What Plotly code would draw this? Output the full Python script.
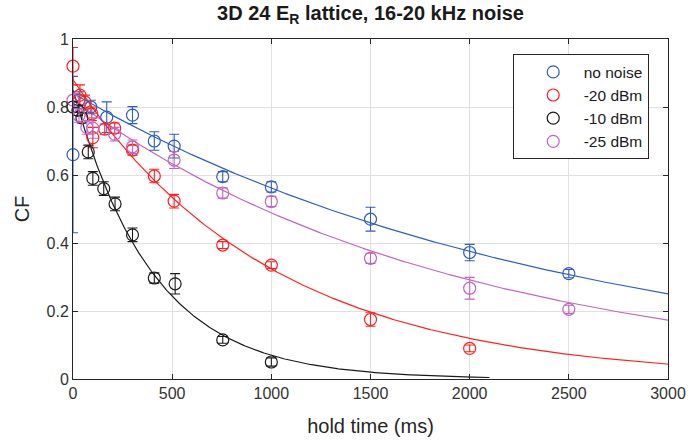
import numpy as np
import plotly.graph_objects as go

# Measured contrast fraction vs hold time for each noise level
series_names = ["no noise", "-20 dBm", "-10 dBm", "-25 dBm"]
series_colors = ["#2f5fbd", "#ff2020", "#1a1a1a", "#c266c2"]

t_none = [0, 30, 90, 170, 300, 410, 510, 755, 1000, 1500, 2000, 2500]
cf_none = [0.66, 0.82, 0.80, 0.77, 0.776, 0.70, 0.685, 0.595, 0.565, 0.47, 0.372, 0.31]
err_none = [0.23, 0.025, 0.02, 0.045, 0.025, 0.027, 0.035, 0.015, 0.015, 0.035, 0.024, 0.012]

t_m20 = [0, 35, 60, 95, 100, 160, 210, 300, 410, 510, 755, 1000, 1500, 2000]
cf_m20 = [0.92, 0.835, 0.815, 0.78, 0.71, 0.735, 0.738, 0.673, 0.597, 0.523, 0.394, 0.335, 0.175, 0.09]
err_m20 = [0.055, 0.03, 0.02, 0.02, 0.03, 0.015, 0.015, 0.015, 0.02, 0.02, 0.01, 0.01, 0.02, 0.01]

t_m10 = [0, 25, 45, 77, 100, 155, 212, 300, 410, 515, 755, 1000]
cf_m10 = [0.80, 0.79, 0.768, 0.668, 0.59, 0.56, 0.515, 0.424, 0.297, 0.28, 0.115, 0.05]
err_m10 = [0.015, 0.015, 0.015, 0.02, 0.02, 0.02, 0.02, 0.02, 0.015, 0.03, 0.01, 0.012]

t_m25 = [0, 30, 70, 100, 210, 300, 510, 755, 1000, 1500, 2000, 2500]
cf_m25 = [0.82, 0.775, 0.74, 0.738, 0.72, 0.683, 0.644, 0.547, 0.522, 0.355, 0.267, 0.205]
err_m25 = [0.02, 0.02, 0.02, 0.03, 0.02, 0.02, 0.025, 0.015, 0.015, 0.015, 0.032, 0.012]

# Exponential decay fits: amplitude, time constant (ms), end of fitted range (ms)
fit_amp = [0.84, 0.88, 0.85, 0.82]
fit_tau = [2480, 1000, 400, 1930]
fit_tmax = [3000, 3000, 2100, 3000]

times = [t_none, t_m20, t_m10, t_m25]
values = [cf_none, cf_m20, cf_m10, cf_m25]
errors = [err_none, err_m20, err_m10, err_m25]

fig = go.Figure()

# fit curves (behind the data markers)
for amp, tau, tmax, col in zip(fit_amp, fit_tau, fit_tmax, series_colors):
    tt = np.linspace(0, tmax, 400)
    fig.add_trace(go.Scatter(
        x=tt, y=amp * np.exp(-tt / tau), mode="lines",
        line=dict(color=col, width=1.2), showlegend=False, hoverinfo="skip"))

# data with error bars
for name, col, t, cf, err in zip(series_names, series_colors, times, values, errors):
    fig.add_trace(go.Scatter(
        x=t, y=cf, mode="markers", name=name,
        marker=dict(symbol="circle-open", size=12, color=col, line=dict(width=1.2, color=col)),
        error_y=dict(type="data", array=err, visible=True, color=col, thickness=1.1, width=5),
        cliponaxis=False))

font_family = "Liberation Sans, Arial, sans-serif"
axis_common = dict(
    showline=True, linecolor="#262626", linewidth=1, mirror="ticks",
    ticks="inside", ticklen=5, tickcolor="#262626",
    showgrid=True, gridcolor="#e0e0e0", gridwidth=1,
    zeroline=False, automargin=False,
    tickfont=dict(size=16, color="#333333", family=font_family),
)

fig.update_layout(
    width=688, height=440,
    margin=dict(l=73, r=20, t=39, b=61, autoexpand=False),
    paper_bgcolor="white", plot_bgcolor="white",
    font=dict(family=font_family, color="#262626"),
    title=dict(text="<b>3D 24 E<sub>R</sub> lattice, 16-20 kHz noise</b>",
               x=0.5, xanchor="center", xref="paper", y=0.971, yanchor="middle",
               font=dict(size=20, color="#1a1a1a")),
    xaxis=dict(range=[0, 3000], tickvals=[0, 500, 1000, 1500, 2000, 2500, 3000],
               title=dict(text="hold time (ms)", font=dict(size=20, color="#262626"), standoff=17),
               **axis_common),
    yaxis=dict(range=[0, 1], tickvals=[0, 0.2, 0.4, 0.6, 0.8, 1],
               ticktext=["0", "0.2", "0.4", "0.6", "0.8", "1"],
               title=dict(text="CF", font=dict(size=20, color="#262626"), standoff=11),
               **axis_common),
    legend=dict(x=0.739, y=0.955, xanchor="left", yanchor="top",
                bgcolor="white", bordercolor="#262626", borderwidth=1,
                font=dict(size=15.5, color="#1a1a1a", family=font_family),
                itemwidth=51, indentation=9, tracegroupgap=0),
    showlegend=True,
)

fig.write_html("out.html")
